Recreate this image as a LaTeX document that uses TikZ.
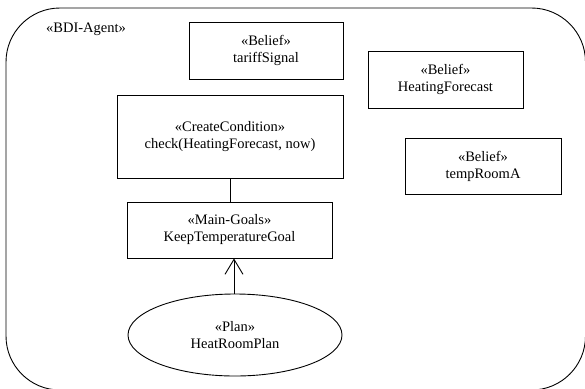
\documentclass[tikz,border=0pt]{standalone}
\usepackage{fontspec}
\setmainfont{Liberation Serif}
\usetikzlibrary{arrows.meta,shapes.geometric}
\begin{document}
\begin{tikzpicture}[x=1pt,y=-1pt,
  every node/.style={font=\rmfamily\fontsize{14.5}{17}\selectfont, align=center, inner sep=0pt},
  umlbox/.style={draw, line width=0.9pt, rectangle},
  plannode/.style={draw, line width=0.9pt, ellipse},
  link/.style={line width=0.9pt}]
\useasboundingbox (0,0) rectangle (585,388);
% agent container
\draw[line width=0.9pt, rounded corners=54pt] (6,8) rectangle (585.5,390);
\node[anchor=west] (agent) at (46,29) {«BDI-Agent»};
% beliefs
\node[umlbox, minimum width=154pt, minimum height=57pt] (tariff) at (266,50.5) {«Belief»\\tariffSignal};
\node[umlbox, minimum width=155pt, minimum height=57pt] (forecast) at (445.5,79.5) {«Belief»\\HeatingForecast};
\node[umlbox, minimum width=156pt, minimum height=56pt] (temp) at (483,166) {«Belief»\\tempRoomA};
% condition, goal and plan
\node[umlbox, minimum width=226pt, minimum height=83pt] (cond) at (230,136.5) {«CreateCondition»\\check(HeatingForecast, now)};
\node[umlbox, minimum width=205pt, minimum height=56pt] (goal) at (229.5,230) {«Main-Goals»\\KeepTemperatureGoal};
\node[plannode, minimum width=214pt, minimum height=82pt] (plan) at (235,335) {«Plan»\\HeatRoomPlan};
% connectors
\draw[link] (cond.south -| 230,0) -- (goal.north -| 230,0);
\draw[link, -{Straight Barb[length=15pt,width=18pt,line width=0.9pt]}] (plan.north -| 234,0) -- (goal.south -| 234,0);
\end{tikzpicture}
\end{document}
